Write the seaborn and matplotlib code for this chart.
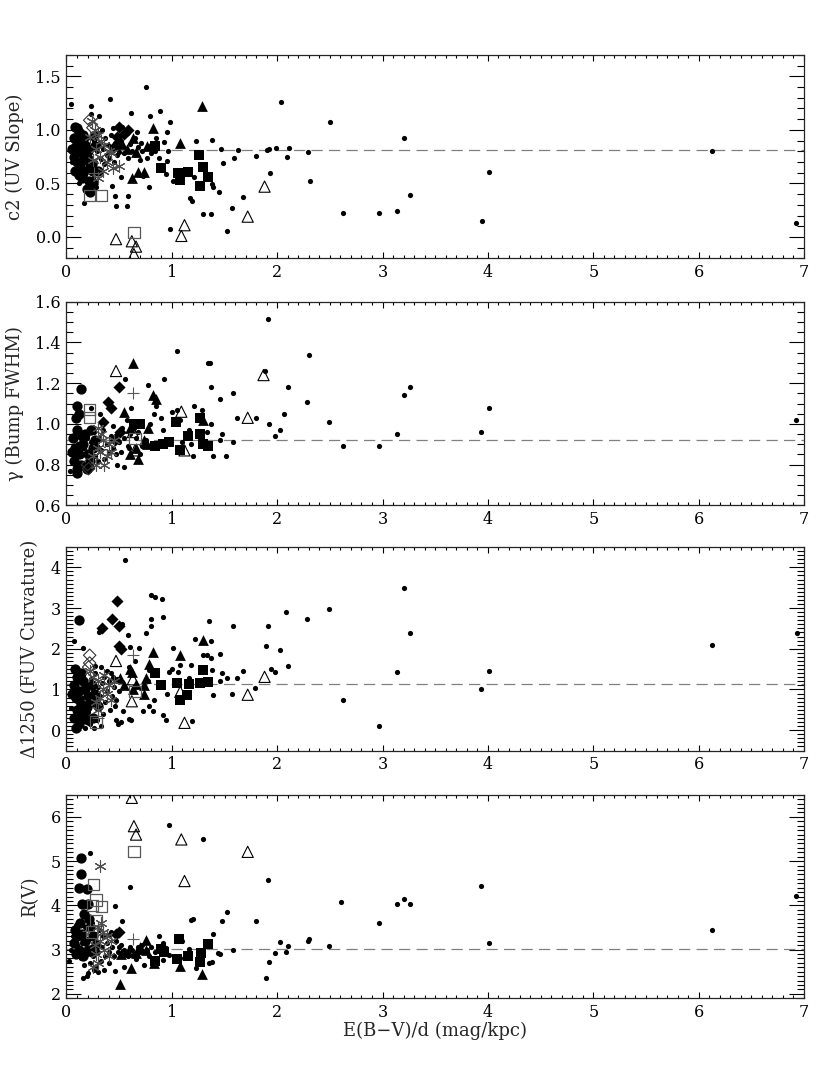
import matplotlib
matplotlib.use('Agg')
import matplotlib.pyplot as plt
import seaborn as sns
from matplotlib.ticker import MultipleLocator

# ---- panel 1 : c2 (UV slope) ----
c2_dots = [(0.04,1.24),(0.75,1.40),(0.41,1.29),(0.23,1.22),(0.23,1.15),(0.31,1.13),(0.61,1.16),(0.79,1.13),
           (0.89,1.18),(0.98,1.07),(0.95,0.98),(0.93,0.89),(0.96,0.80),(0.95,0.71),(0.85,0.92),(0.67,0.98),
           (1.23,0.90),(1.38,0.91),(1.47,0.82),(1.49,0.69),(1.63,0.81),(1.59,0.74),(1.80,0.76),(1.68,0.37),
           (1.57,0.27),(1.45,0.42),(1.52,0.06),(1.39,0.47),(1.38,0.49),(1.30,0.21),(1.37,0.21),(1.17,0.36),
           (1.19,0.34),(1.21,0.56),(1.01,0.52),(0.98,0.07),(0.94,0.59),(0.88,0.74),(0.70,0.72),(0.78,0.47),
           (0.73,0.57),(0.58,0.38),(0.57,0.29),(0.47,0.29),(0.46,0.38),(0.43,0.48),(0.52,0.56),(0.17,0.32),
           (0.48,0.77),(1.90,0.81),(1.92,0.82),(1.99,0.83),(2.11,0.83),(2.09,0.75),(2.04,1.26),(2.50,1.07),
           (2.29,0.79),(2.31,0.52),(1.93,0.60),(2.62,0.22),(2.97,0.22),(3.14,0.24),(3.20,0.92),(3.26,0.39),
           (3.94,0.15),(4.01,0.61),(6.13,0.80),(6.92,0.13),
           (0.05,0.70),(0.08,0.78),(0.10,0.60),(0.12,0.50),(0.13,0.72),(0.15,0.68),(0.16,0.85),(0.18,0.58),
           (0.19,0.92),(0.20,0.66),(0.21,0.48),(0.22,0.75),(0.23,0.60),(0.24,0.84),(0.25,0.55),(0.26,0.90),
           (0.27,0.70),(0.28,0.47),(0.29,0.80),(0.30,0.97),(0.31,0.63),(0.32,0.88),(0.33,0.73),(0.34,1.00),
           (0.35,0.82),(0.36,0.68),(0.37,0.92),(0.38,0.77),(0.39,0.86),(0.40,0.74),(0.42,0.95),(0.43,0.83),
           (0.45,0.70),(0.46,0.88),(0.50,0.79),(0.55,0.78),(0.58,0.74),(0.62,0.80),(0.65,0.77),(0.68,0.84),
           (0.72,0.80),(0.44,1.02),(0.53,1.03),(0.57,0.97),(0.52,0.90),(0.60,0.87),(0.65,0.92),(0.71,0.88),
           (0.76,0.83),(0.80,0.86),(0.84,0.80),(0.76,0.74),(0.80,0.78)]
c2_big = [(0.08,1.03),(0.10,1.02),(0.12,0.98),(0.07,0.92),(0.09,0.85),(0.11,0.80),(0.07,0.75),(0.10,0.70),
          (0.13,0.65),(0.08,0.62),(0.12,0.58),(0.15,0.55),(0.14,0.88),(0.16,0.95),(0.18,0.72),(0.17,0.62),
          (0.20,0.80),(0.21,0.52),(0.19,0.45),(0.22,0.42),(0.25,0.50),(0.24,0.68),(0.27,0.85),(0.30,0.62),
          (0.15,0.78),(0.12,0.90),(0.26,0.94),(0.18,0.86),(0.22,0.64),(0.05,0.82)]
c2_diam = [(0.50,1.03),(0.55,0.96),(0.48,0.93),(0.58,1.00),(0.45,0.84)]
c2_tri = [(1.29,1.22),(0.82,1.02),(0.63,0.92),(0.62,0.55),(0.68,0.61),(0.74,0.61),(1.08,0.88),(0.76,0.85),
          (0.49,0.91),(0.57,0.82),(0.53,0.87),(0.66,0.79)]
c2_sq = [(0.84,0.85),(0.90,0.64),(1.06,0.60),(1.08,0.53),(1.15,0.61),(1.26,0.77),(1.30,0.65),(1.34,0.56),(1.27,0.48)]
c2_otri = [(0.47,-0.02),(0.62,-0.04),(0.66,-0.09),(0.64,-0.16),(1.12,0.11),(1.09,0.01),(1.72,0.19),(1.88,0.47)]
c2_osq = [(0.64,0.04),(0.22,0.39),(0.33,0.39)]
c2_odiam = [(0.22,1.09),(0.25,1.02)]
c2_ast = [(0.24,1.08),(0.27,1.00),(0.30,0.95),(0.33,0.90),(0.28,0.82),(0.36,0.86),(0.32,0.75),(0.40,0.80),
          (0.38,0.70),(0.44,0.64),(0.50,0.66),(0.25,0.72),(0.30,0.55),(0.35,0.62),(0.42,0.78),(0.22,0.93)]
c2_plus = [(0.26,0.60)]
c2_mean = 0.81

# ---- panel 2 : gamma (bump FWHM) ----
gam_dots = [(1.91,1.515),(1.05,1.36),(1.34,1.30),(1.36,1.30),(2.30,1.34),(3.20,1.14),(3.26,1.18),(0.93,1.22),
            (0.56,1.22),(0.77,1.19),(1.37,1.18),(1.58,1.15),(2.10,1.18),(1.46,1.12),(2.28,1.11),(1.21,1.09),
            (1.29,1.07),(0.85,1.09),(0.61,1.08),(1.62,1.03),(1.80,1.03),(2.06,1.05),(2.49,1.01),(1.37,1.00),
            (1.92,1.00),(1.98,0.94),(2.03,0.97),(2.62,0.89),(2.97,0.89),(3.14,0.95),(1.48,0.95),(1.58,0.91),
            (1.51,0.84),(1.39,0.84),(1.20,0.84),(1.18,0.90),(1.16,0.97),(1.08,1.02),(1.00,1.06),(0.83,1.05),
            (0.90,1.03),(0.92,0.97),(0.98,0.90),(0.79,1.00),(0.70,0.85),(0.59,0.88),(0.55,0.79),(0.48,0.80),
            (0.44,0.99),(0.32,1.05),(0.23,1.08),(0.03,0.77),(1.46,0.92),(1.88,1.26),(3.93,0.96),(4.01,1.08),
            (6.92,1.02),(1.33,0.96),(1.10,0.91),(1.05,1.07),
            (0.05,0.93),(0.07,0.87),(0.09,0.82),(0.11,0.90),(0.13,0.95),(0.14,0.84),(0.16,0.79),(0.17,0.88),
            (0.19,0.93),(0.20,0.81),(0.22,0.86),(0.23,0.91),(0.24,0.79),(0.26,0.96),(0.27,0.84),(0.29,0.89),
            (0.30,0.82),(0.31,0.93),(0.33,0.87),(0.35,0.97),(0.36,0.83),(0.38,0.90),(0.40,0.86),(0.42,0.94),
            (0.44,0.88),(0.47,0.85),(0.50,0.91),(0.52,0.86),(0.55,0.93),(0.58,0.89),(0.60,0.95),(0.62,1.00),
            (0.64,0.98),(0.66,1.01),(0.68,0.96),(0.72,0.89),(0.75,0.92),(0.70,1.00),(0.66,0.93),(0.53,0.98),
            (0.48,0.95),(0.57,1.02)]
gam_big = [(0.14,1.17),(0.10,1.09),(0.12,1.05),(0.09,1.03),(0.10,0.97),(0.06,0.93),(0.08,0.88),(0.12,0.85),
           (0.07,0.82),(0.10,0.78),(0.14,0.80),(0.16,0.90),(0.18,0.95),(0.20,0.85),(0.22,0.82),(0.25,0.88),
           (0.15,0.94),(0.19,0.78),(0.10,0.76),(0.23,0.97),(0.27,0.92),(0.13,0.89),(0.05,0.86)]
gam_diam = [(0.50,1.18),(0.39,1.11),(0.35,1.01),(0.51,0.96),(0.42,1.08),(0.46,0.92)]
gam_tri = [(0.63,1.30),(0.82,1.14),(0.85,1.12),(0.55,1.06),(0.77,0.98),(0.76,0.90),(0.66,0.88),(0.60,0.85),
           (0.68,0.83),(0.60,0.98),(1.30,1.02),(0.74,0.92)]
gam_sq = [(1.04,1.01),(1.15,0.94),(1.27,0.95),(1.27,1.03),(1.30,0.90),(1.34,0.89),(1.08,0.87),(0.84,0.89),
          (0.92,0.90),(0.97,0.91),(0.64,1.00),(0.70,1.00)]
gam_otri = [(0.47,1.26),(1.87,1.24),(1.72,1.03),(1.09,1.06),(1.12,0.87),(0.65,0.87),(0.63,0.96)]
gam_osq = [(0.22,1.03),(0.22,1.07),(0.65,0.93)]
gam_odiam = [(0.21,0.78),(0.20,0.80)]
gam_ast = [(0.30,0.98),(0.35,0.92),(0.32,0.86),(0.38,0.84),(0.40,0.90),(0.28,0.80),(0.36,0.80),(0.42,0.86),
           (0.25,0.84),(0.30,0.88),(0.45,0.92),(0.33,0.95)]
gam_plus = [(0.63,1.15)]
gam_mean = 0.922

# ---- panel 3 : Delta1250 (FUV curvature) ----
fuv_dots = [(0.56,4.18),(0.80,3.31),(0.84,3.26),(0.91,3.22),(3.20,3.49),(3.26,2.38),(2.49,2.98),(2.08,2.91),
            (2.28,2.73),(1.35,2.68),(1.58,2.56),(1.91,2.56),(0.92,2.77),(0.80,2.72),(0.80,2.56),(0.53,2.60),
            (0.31,2.42),(0.58,2.33),(0.75,2.38),(1.22,2.23),(1.37,2.19),(0.07,2.19),(0.16,2.02),(0.60,2.04),
            (0.69,2.02),(1.01,2.02),(1.89,2.06),(2.03,1.98),(1.46,1.88),(1.18,1.61),(1.30,1.84),(1.33,1.84),
            (1.37,1.77),(1.94,1.51),(1.98,1.44),(2.10,1.57),(1.68,1.45),(1.62,1.27),(1.52,1.27),(1.48,1.41),
            (1.46,1.21),(1.38,1.47),(1.16,1.28),(1.06,1.43),(0.97,1.44),(0.78,1.49),(0.77,1.20),(1.79,1.04),
            (1.57,0.90),(1.39,0.86),(0.95,0.88),(0.83,0.73),(0.78,0.60),(0.82,0.47),(0.73,0.47),(0.92,0.38),
            (0.94,0.24),(1.19,0.22),(2.62,0.75),(2.97,0.11),(3.14,1.44),(0.59,0.27),(0.61,0.25),(0.52,0.20),
            (0.49,0.15),(0.47,0.24),(0.54,0.47),(0.47,0.75),(3.93,1.02),(4.01,1.45),(6.13,2.10),(6.93,2.38),
            (1.00,1.50),(0.44,1.30),(0.59,1.55),(0.65,1.70),(1.08,1.60),
            (0.04,0.55),(0.06,0.30),(0.08,0.95),(0.09,0.10),(0.10,1.20),(0.11,0.70),(0.12,0.35),(0.13,1.00),
            (0.14,0.20),(0.15,0.80),(0.16,1.35),(0.17,0.60),(0.18,0.05),(0.19,1.10),(0.20,0.45),(0.21,0.90),
            (0.22,0.15),(0.23,1.25),(0.24,0.65),(0.25,0.95),(0.26,0.05),(0.27,1.40),(0.28,0.75),(0.29,0.25),
            (0.30,1.05),(0.31,0.55),(0.32,0.85),(0.33,0.10),(0.34,1.15),(0.35,0.40),(0.36,1.30),(0.37,0.70),
            (0.38,0.95),(0.40,1.20),(0.41,0.50),(0.42,1.40),(0.43,0.85),(0.45,1.05),(0.46,0.60),(0.48,1.25),
            (0.50,0.95),(0.33,1.55),(0.38,1.45),(0.27,1.58)]
fuv_big = [(0.12,2.71),(0.08,1.50),(0.10,1.30),(0.07,1.10),(0.12,0.95),(0.09,0.80),(0.14,0.65),(0.10,0.50),
           (0.07,0.30),(0.12,0.15),(0.09,0.05),(0.16,1.20),(0.18,1.00),(0.20,0.85),(0.22,0.70),(0.17,0.45),
           (0.15,0.28),(0.24,1.10),(0.27,0.90),(0.30,0.60),(0.20,0.25),(0.25,0.30),(0.14,1.40),(0.05,0.90),
           (0.19,0.58)]
fuv_diam = [(0.48,3.18),(0.43,2.73),(0.34,2.51),(0.50,2.57),(0.50,2.06),(0.52,2.00)]
fuv_tri = [(1.30,2.22),(1.08,1.84),(0.82,1.93),(0.78,1.63),(0.62,1.43),(0.75,1.28),(0.74,1.10),(0.74,0.90),
           (0.66,1.14),(0.51,1.27),(0.55,1.10),(0.60,1.50),(0.63,1.00)]
fuv_sq = [(0.84,1.40),(0.90,1.12),(1.05,1.16),(1.16,1.13),(1.30,1.47),(1.27,1.16),(1.34,1.18),(1.14,0.86),(1.08,0.73)]
fuv_otri = [(0.47,1.70),(0.62,0.71),(1.08,0.94),(1.12,0.18),(1.72,0.87),(1.88,1.31),(0.63,1.25)]
fuv_osq = [(0.65,0.94),(0.28,0.20)]
fuv_odiam = [(0.22,1.84),(0.21,1.55),(0.22,1.65)]
fuv_ast = [(0.25,1.30),(0.30,1.20),(0.35,1.00),(0.40,1.10),(0.32,0.80),(0.38,0.90),(0.28,0.70),(0.42,0.75),
           (0.45,1.20),(0.36,1.35),(0.22,1.45),(0.30,0.50)]
fuv_plus = [(0.63,1.84),(0.30,0.30)]
fuv_mean = 1.13

# ---- panel 4 : R(V) ----
rv_dots = [(0.97,5.81),(1.30,5.50),(0.22,5.19),(0.60,4.42),(1.91,4.58),(0.46,3.98),(2.61,4.08),(2.97,3.60),
           (3.14,4.02),(3.20,4.15),(3.26,4.04),(1.80,3.64),(1.52,3.85),(1.48,3.64),(1.20,3.70),(1.18,3.66),
           (1.39,3.36),(0.53,3.64),(2.49,3.08),(2.29,3.19),(2.30,3.23),(2.03,3.18),(2.10,3.09),(1.98,2.93),
           (2.08,2.94),(1.92,2.72),(1.89,2.36),(1.58,2.98),(1.46,2.89),(1.35,2.69),(1.23,2.59),(1.16,3.02),
           (0.94,3.04),(0.92,3.15),(0.88,3.30),(0.97,2.87),(0.92,2.76),(0.74,2.65),(0.66,2.79),(0.46,2.51),
           (0.16,2.35),(0.02,2.74),(3.93,4.43),(4.01,3.15),(6.13,3.45),(6.92,4.22),(1.38,2.72),(1.10,3.20),
           (1.44,2.92),(0.80,3.05),(0.84,2.95),(0.70,2.95),(0.62,3.00),(0.56,2.90),(0.50,3.05),(0.42,3.40),
           (0.40,2.70),(0.36,2.55),(0.55,2.60),(0.26,2.55),(0.20,2.48),(1.05,3.25),(1.12,2.82),(1.25,2.95),
           (0.78,2.85),
           (0.04,3.00),(0.06,3.30),(0.08,2.85),(0.09,3.55),(0.10,3.10),(0.11,2.95),(0.13,3.40),(0.14,2.80),
           (0.15,3.15),(0.17,2.65),(0.18,3.50),(0.19,2.90),(0.21,3.25),(0.22,2.70),(0.23,3.05),(0.24,3.60),
           (0.25,2.85),(0.27,3.35),(0.28,2.60),(0.29,3.15),(0.30,2.95),(0.31,3.45),(0.33,2.75),(0.34,3.05),
           (0.35,3.30),(0.37,2.85),(0.38,3.15),(0.40,2.95),(0.41,3.35),(0.43,3.05),(0.45,2.85),(0.47,3.20),
           (0.49,2.95),(0.52,3.10),(0.55,3.00),(0.58,2.85),(0.60,3.05),(0.64,2.90),(0.68,3.05),(0.72,3.10),
           (0.76,3.00),(0.19,2.40),(0.30,2.50)]
rv_big = [(0.14,5.06),(0.14,4.71),(0.12,4.40),(0.19,4.36),(0.15,4.02),(0.20,4.02),(0.17,3.80),(0.13,3.60),
          (0.08,3.45),(0.10,3.30),(0.07,3.15),(0.12,3.00),(0.09,2.90),(0.15,3.35),(0.18,3.20),(0.20,3.00),
          (0.16,2.85),(0.22,3.50),(0.25,3.30),(0.24,2.95),(0.28,3.10),(0.21,3.70)]
rv_diam = [(0.50,3.40),(0.47,3.35)]
rv_tri = [(0.75,3.21),(0.51,2.23),(0.61,2.59),(0.83,2.69),(1.08,2.63),(1.29,2.44),(0.52,2.90),(0.58,2.95),
          (0.66,2.92),(0.75,3.00),(0.70,3.05)]
rv_sq = [(1.07,3.23),(0.90,3.02),(0.84,2.74),(1.05,2.79),(1.15,2.85),(1.28,2.93),(1.34,3.13),(1.27,2.73),(0.93,2.95)]
rv_otri = [(0.62,6.43),(0.64,5.79),(0.66,5.60),(1.09,5.49),(1.12,4.55),(1.72,5.21)]
rv_osq = [(0.64,5.22),(0.26,4.47),(0.28,4.12),(0.25,4.00),(0.33,3.98),(0.28,3.65),(0.24,3.40)]
rv_odiam = []
rv_ast = [(0.32,4.89),(0.30,3.50),(0.35,3.40),(0.32,3.20),(0.38,3.30),(0.28,2.90),(0.36,3.00),(0.42,3.20),
          (0.30,2.70),(0.25,2.60),(0.40,2.85),(0.33,3.60),(0.27,3.10)]
rv_plus = [(0.63,3.23),(0.20,3.42)]
rv_mean = 3.01

panels = [
    dict(label='c2 (UV Slope)', ylim=(-0.2, 1.7), major=0.5, minor=0.1, mean=c2_mean, labx=-0.058,
         groups=[c2_dots, c2_big, c2_diam, c2_tri, c2_sq, c2_otri, c2_osq, c2_odiam, c2_ast, c2_plus]),
    dict(label='γ (Bump FWHM)', ylim=(0.6, 1.6), major=0.2, minor=0.05, mean=gam_mean, labx=-0.058,
         groups=[gam_dots, gam_big, gam_diam, gam_tri, gam_sq, gam_otri, gam_osq, gam_odiam, gam_ast, gam_plus]),
    dict(label='Δ1250 (FUV Curvature)', ylim=(-0.5, 4.5), major=1, minor=0.1, mean=fuv_mean, labx=-0.037,
         groups=[fuv_dots, fuv_big, fuv_diam, fuv_tri, fuv_sq, fuv_otri, fuv_osq, fuv_odiam, fuv_ast, fuv_plus]),
    dict(label='R(V)', ylim=(1.9, 6.5), major=1, minor=0.1, mean=rv_mean, labx=-0.037,
         groups=[rv_dots, rv_big, rv_diam, rv_tri, rv_sq, rv_otri, rv_osq, rv_odiam, rv_ast, rv_plus]),
]

# marker styles, same order as the groups above
styles = [
    dict(marker='o', s=14, facecolor='k', edgecolor='k', linewidth=0),
    dict(marker='o', s=55, facecolor='k', edgecolor='k', linewidth=0),
    dict(marker='D', s=38, facecolor='k', edgecolor='k', linewidth=0),
    dict(marker='^', s=60, facecolor='k', edgecolor='k', linewidth=0),
    dict(marker='s', s=55, facecolor='k', edgecolor='k', linewidth=0),
    dict(marker='^', s=65, facecolor='none', edgecolor='k', linewidth=0.8),
    dict(marker='s', s=65, facecolor='none', edgecolor='0.35', linewidth=0.9),
    dict(marker='D', s=40, facecolor='none', edgecolor='0.2', linewidth=0.8),
    dict(marker=(6, 2, 0), s=70, linewidth=0.8),
    dict(marker='+', s=80, linewidth=0.8),
]
line_colors = ['0.3', '0.35']

sns.set_style('ticks')
plt.rcParams['font.family'] = ['DejaVu Serif']

fig = plt.figure(figsize=(8.3, 10.74), dpi=100)
bottoms = [0.7594, 0.5295, 0.3012, 0.0705]

for i, p in enumerate(panels):
    ax = fig.add_axes([0.0801, bottoms[i], 0.8886, 0.1895])
    for k, (pts, st) in enumerate(zip(p['groups'], styles)):
        if not pts:
            continue
        xs, ys = zip(*pts)
        if k >= 8:
            sns.scatterplot(x=list(xs), y=list(ys), ax=ax, marker=st['marker'], s=st['s'],
                            color=line_colors[k - 8], linewidth=st['linewidth'], legend=False, zorder=3)
        else:
            sns.scatterplot(x=list(xs), y=list(ys), ax=ax, marker=st['marker'], s=st['s'],
                            facecolor=st['facecolor'], edgecolor=st['edgecolor'],
                            linewidth=st['linewidth'], legend=False, zorder=3)
    ax.axhline(p['mean'], color='0.5', ls=(0, (9, 5)), lw=0.9, zorder=1)
    ax.set_xlim(0, 7)
    ax.set_ylim(*p['ylim'])
    ax.xaxis.set_major_locator(MultipleLocator(1))
    ax.xaxis.set_minor_locator(MultipleLocator(0.1))
    ax.yaxis.set_major_locator(MultipleLocator(p['major']))
    ax.yaxis.set_minor_locator(MultipleLocator(p['minor']))
    ax.tick_params(axis='both', which='both', direction='in', top=True, right=True,
                   labelsize=11.5, width=0.8, colors='k')
    ax.tick_params(axis='x', which='major', length=4, pad=4)
    ax.tick_params(axis='x', which='minor', length=2)
    ax.tick_params(axis='y', which='major', length=11, pad=4)
    ax.tick_params(axis='y', which='minor', length=5)
    if p['major'] == 1:
        ax.yaxis.set_major_formatter(plt.FuncFormatter(lambda v, _: '%d' % round(v)))
    else:
        ax.yaxis.set_major_formatter(plt.FuncFormatter(lambda v, _: '%.1f' % v))
    for sp in ax.spines.values():
        sp.set_linewidth(0.9)
    ax.set_ylabel(p['label'], fontsize=13)
    ax.yaxis.set_label_coords(p['labx'], 0.5)
    if i == 3:
        ax.set_xlabel('E(B−V)/d (mag/kpc)', fontsize=13, labelpad=1)

fig.savefig('out.png', dpi=100)
